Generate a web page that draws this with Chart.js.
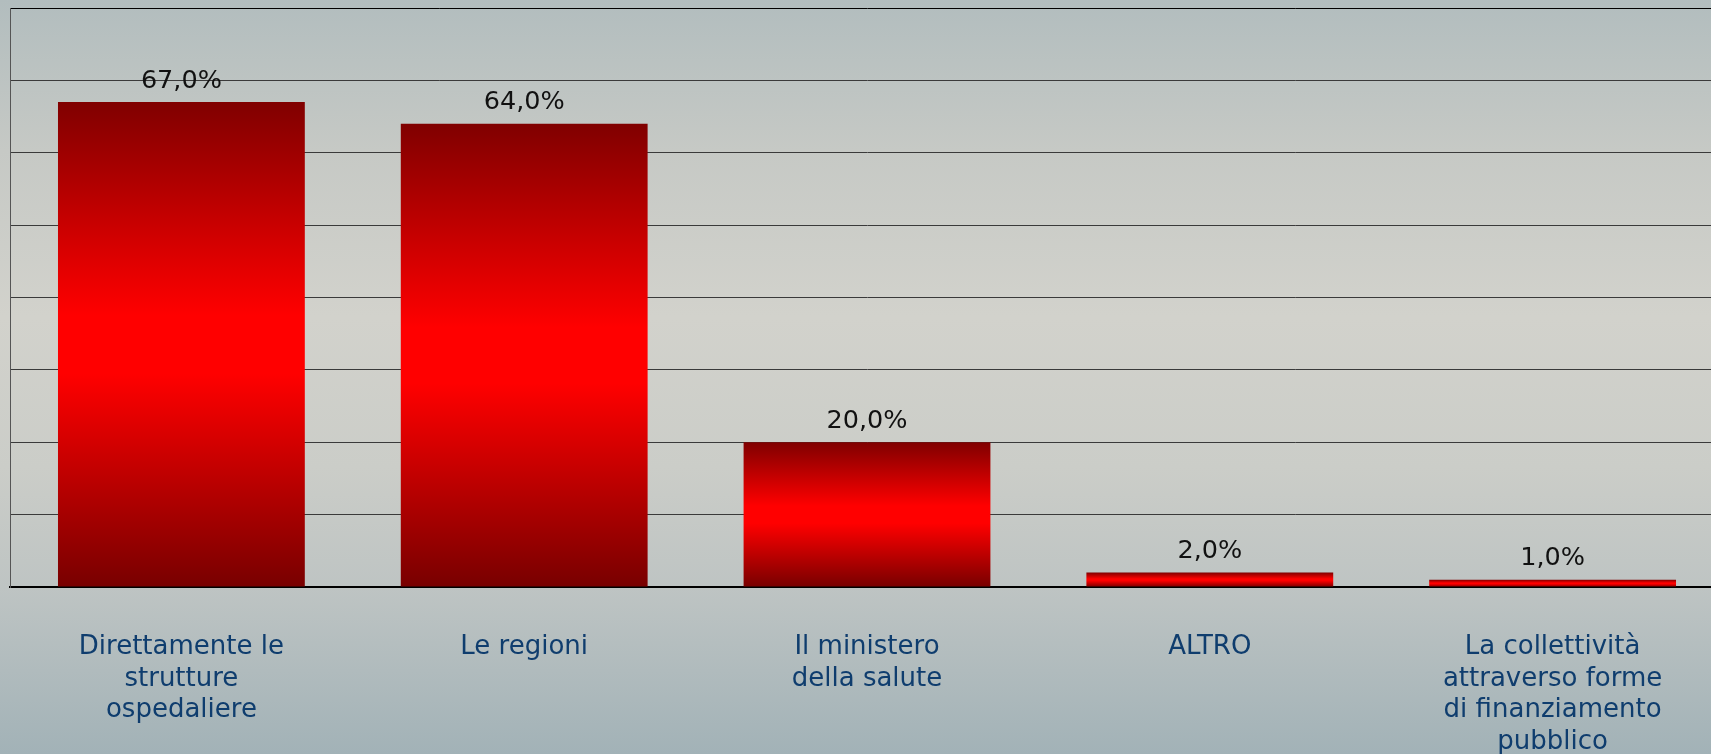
<!DOCTYPE html>
<html>
<head>
<meta charset="utf-8">
<script src="https://cdn.jsdelivr.net/npm/chart.js@4.4.1/dist/chart.umd.min.js"></script>
<style>
  html, body { margin: 0; padding: 0; overflow: hidden; width: 1711px; height: 754px; }
  body { background: linear-gradient(to bottom, #b2bdbe 0%, #c6c9c5 20%, #d2d2cc 42%, #cbcdc8 62%, #bec4c3 78%, #a2b2b7 100%); }
  #wrap { position: absolute; left: 0; top: 0; width: 1724px; height: 754px; }
</style>
</head>
<body>
<div id="wrap"><canvas id="c" width="1724" height="754"></canvas></div>
<script>
const categories = [
  ["Direttamente le", "strutture", "ospedaliere"],
  ["Le regioni"],
  ["Il ministero", "della salute"],
  ["ALTRO"],
  ["La collettività", "attraverso forme", "di finanziamento", "pubblico"]
];
const values = [67, 64, 20, 2, 1];
const valueLabels = ["67,0%", "64,0%", "20,0%", "2,0%", "1,0%"];
const yMax = 80;
const yStep = 10;

function barGradient(ctx) {
  const chart = ctx.chart;
  const area = chart.chartArea;
  if (!area) return '#ff0000';
  const ys = chart.scales.y;
  const v = ctx.raw;
  const top = ys.getPixelForValue(v);
  const bottom = ys.getPixelForValue(0);
  const g = chart.ctx.createLinearGradient(0, top, 0, bottom);
  g.addColorStop(0, '#800000');
  g.addColorStop(0.44, '#ff0000');
  g.addColorStop(0.56, '#ff0000');
  g.addColorStop(1, '#780000');
  return g;
}

const valueLabelPlugin = {
  id: 'valueLabels',
  afterDatasetsDraw(chart) {
    const c = chart.ctx;
    const meta = chart.getDatasetMeta(0);
    c.save();
    c.font = '25.5px "DejaVu Sans"';
    c.fillStyle = '#111111';
    c.textAlign = 'center';
    c.textBaseline = 'middle';
    meta.data.forEach((el, i) => {
      c.fillText(valueLabels[i], el.x, el.y - 21);
    });
    c.restore();
  }
};

new Chart(document.getElementById('c'), {
  type: 'bar',
  data: {
    labels: categories,
    datasets: [{
      data: values,
      backgroundColor: barGradient,
      borderWidth: 0,
      barPercentage: 0.8,
      categoryPercentage: 0.9
    }]
  },
  options: {
    responsive: false,
    animation: false,
    events: [],
    layout: { padding: { left: 10, top: 8, right: 0, bottom: 0 } },
    plugins: { legend: { display: false }, tooltip: { enabled: false } },
    scales: {
      x: {
        grid: { display: false, drawTicks: false },
        border: { display: true, color: '#000000', width: 2 },
        ticks: {
          color: '#0f3d6e',
          font: { family: '"DejaVu Sans"', size: 26, lineHeight: 1.21 },
          padding: 45,
          maxRotation: 0,
          autoSkip: false
        },
        afterFit: (scale) => { scale.height = 167; }
      },
      y: {
        min: 0,
        max: yMax,
        grid: {
          drawTicks: false,
          color: (ctx) => ctx.tick && ctx.tick.value === yMax ? '#000000' : '#3a3a3a',
          lineWidth: 1
        },
        border: { display: true, color: '#555555', width: 1 },
        ticks: { display: false, stepSize: yStep }
      }
    }
  },
  plugins: [valueLabelPlugin]
});
</script>
</body>
</html>
